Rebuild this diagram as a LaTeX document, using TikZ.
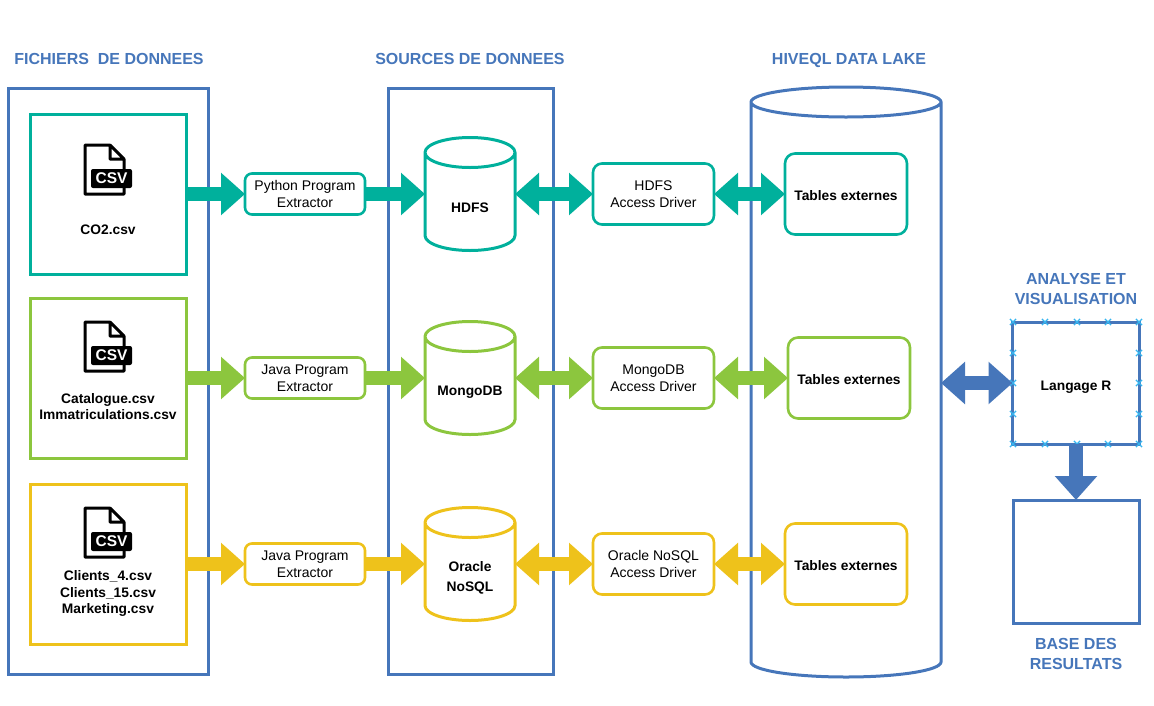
\documentclass[tikz,border=0pt]{standalone}
\usepackage{fontspec}
\setmainfont{Liberation Sans}
\usetikzlibrary{positioning,arrows.meta,shapes.misc,backgrounds}

\definecolor{laneblue}{HTML}{4676BA}
\definecolor{csvteal}{HTML}{00B09C}
\definecolor{csvgreen}{HTML}{8CC63E}
\definecolor{csvyellow}{HTML}{EEC21B}
\definecolor{handleblue}{HTML}{35B5F0}

% document icon: name, x, y of its top left corner
\newcommand{\csvicon}[3]{
    \begin{scope}[shift={(#2,#3)}]
        \draw[black, line width=3pt, line join=round] (26,0) -- (1,0) -- (1,49) -- (40,49) -- (40,14) -- (26,0) -- (26,14) -- (40,14);
        \fill[black, rounded corners=2pt] (7,24) rectangle (48,43);
        \node[text=white, font=\fontsize{15.5}{16}\selectfont\bfseries, inner sep=0pt] (#1) at (27.5,33.5) {CSV};
    \end{scope}
}

% cylinder round a store node: node, colour, half width
\newcommand{\storeoutline}[3]{
    \draw[#2, line width=3pt]
        ([yshift=-15pt]#1.north west) arc[start angle=180, end angle=0, x radius=#3, y radius=15pt]
        -- ([yshift=15pt]#1.south east) arc[start angle=0, end angle=-180, x radius=#3, y radius=15pt]
        -- cycle
        ([yshift=-15pt]#1.north west) arc[start angle=180, end angle=360, x radius=#3, y radius=15pt];
}

\begin{document}
\begin{tikzpicture}[
    x=1pt,
    y=-1pt,
    font=\fontsize{14}{17}\selectfont,
    lane/.style={
        draw=laneblue,
        line width=3pt,
        inner sep=0pt,
        outer sep=0pt
    },
    title/.style={
        text=laneblue,
        font=\fontsize{16}{20}\selectfont\bfseries,
        align=center,
        inner sep=0pt
    },
    filebox/.style={
        line width=3pt,
        minimum width=156pt,
        minimum height=160pt,
        inner sep=0pt,
        outer sep=0pt
    },
    filelabel/.style={
        font=\fontsize{13.8}{16.5}\selectfont\bfseries,
        align=center,
        inner sep=0pt
    },
    toolbox/.style={
        rounded corners=7pt,
        align=center,
        line width=2.6pt,
        minimum width=120pt,
        minimum height=41pt,
        inner sep=0pt,
        outer sep=0pt
    },
    driverbox/.style={
        toolbox,
        rounded corners=9pt,
        minimum width=121pt,
        minimum height=61pt
    },
    tablebox/.style={
        toolbox,
        rounded corners=10pt,
        font=\fontsize{13.8}{16.5}\selectfont\bfseries,
        text height=12pt,
        text depth=0pt,
        minimum width=122pt,
        minimum height=81pt
    },
    store/.style={
        minimum width=90pt,
        minimum height=113pt,
        inner sep=0pt,
        outer sep=0pt
    },
    storelabel/.style={
        font=\fontsize{13.8}{20}\selectfont\bfseries,
        align=center,
        inner sep=0pt
    },
    oneway/.style={
        line width=14pt,
        -{Triangle[length=24pt,width=41pt]}
    },
    twoway/.style={
        line width=14pt,
        {Triangle[length=24pt,width=41pt]}-{Triangle[length=24pt,width=41pt]}
    },
    handle/.style={
        cross out,
        draw=handleblue,
        line width=1.2pt,
        minimum size=5pt,
        inner sep=0pt
    }
]
\useasboundingbox (0,0) rectangle (1154,705);

% Titles
\node[title] (filestitle) at (109,59) {FICHIERS\ \ DE DONNEES};
\node[title] (sourcestitle) at (470,59) {SOURCES DE DONNEES};
\node[title, text depth=0pt] (laketitle) at (849,59) {HIVEQL DATA LAKE};

% Row 1: CO2
\node[filebox, draw=csvteal] (csvA) at (108,194) {};
\node[toolbox, draw=csvteal, right=59pt of csvA] (extractA) {Python Program\\Extractor};
\node[store, right=60pt of extractA] (hdfs) {};
\node[driverbox, draw=csvteal, right=78pt of hdfs] (driverA) {HDFS\\Access Driver};
\node[tablebox, draw=csvteal, right=71pt of driverA] (tablesA) {Tables externes};

% Row 2: Catalogue
\node[filebox, draw=csvgreen, below=24pt of csvA] (csvB) {};
\node[toolbox, draw=csvgreen, right=59pt of csvB] (extractB) {Java Program\\Extractor};
\node[store, right=60pt of extractB] (mongo) {};
\node[driverbox, draw=csvgreen, right=78pt of mongo] (driverB) {MongoDB\\Access Driver};
\node[tablebox, draw=csvgreen, right=74pt of driverB] (tablesB) {Tables externes};

% Row 3: Clients
\node[filebox, draw=csvyellow, below=26pt of csvB] (csvC) {};
\node[toolbox, draw=csvyellow, right=59pt of csvC] (extractC) {Java Program\\Extractor};
\node[store, right=60pt of extractC] (oracle) {};
\node[driverbox, draw=csvyellow, right=78pt of oracle] (driverC) {Oracle NoSQL\\Access Driver};
\node[tablebox, draw=csvyellow, right=71pt of driverC] (tablesC) {Tables externes};

% Stores
\storeoutline{hdfs}{csvteal}{45pt}
\storeoutline{mongo}{csvgreen}{45pt}
\storeoutline{oracle}{csvyellow}{45pt}
\node[storelabel] (hdfsname) at ([yshift=-14pt]hdfs.center) {HDFS};
\node[storelabel] (mongoname) at ([yshift=-14pt]mongo.center) {MongoDB};
\node[storelabel] (oraclename) at ([yshift=-14pt]oracle.center) {Oracle\\NoSQL};

% File names and icons
\node[filelabel, above=39pt of csvA.south] (namesA) {CO2.csv};
\node[filelabel, above=38pt of csvB.south] (namesB) {Catalogue.csv\\Immatriculations.csv};
\node[filelabel, above=27pt of csvC.south] (namesC) {Clients\_4.csv\\Clients\_15.csv\\Marketing.csv};
\csvicon{iconA}{84}{145}
\csvicon{iconB}{84}{322}
\csvicon{iconC}{84}{508}

% Right side
\node[lane, minimum width=127pt, minimum height=122pt, text height=14pt, text depth=0pt, font=\fontsize{13.8}{16.5}\selectfont\bfseries] (langage) at (1076,383) {Langage R};
\node[lane, minimum width=126pt, minimum height=123pt, below=56pt of langage] (results) {};
\node[title, above=17pt of langage] (analysetitle) {ANALYSE ET\\VISUALISATION};
\node[title, below=15pt of results] (resultstitle) {BASE DES\\RESULTATS};

% Selection handles
\foreach \hx in {1013,1045,1077,1108,1139} {
    \node[handle] (top\hx) at (\hx,322) {};
    \node[handle] (bot\hx) at (\hx,444) {};
}
\foreach \hy in {353,383,414} {
    \node[handle] (left\hy) at (1013,\hy) {};
    \node[handle] (right\hy) at (1139,\hy) {};
}

% Connections
\draw[oneway, csvteal] (csvA) -- (extractA);
\draw[oneway, csvteal] (extractA) -- (hdfs);
\draw[twoway, csvteal] (hdfs) -- (driverA);
\draw[twoway, csvteal] (driverA) -- (tablesA);

\draw[oneway, csvgreen] (csvB) -- (extractB);
\draw[oneway, csvgreen] (extractB) -- (mongo);
\draw[twoway, csvgreen] (mongo) -- (driverB);
\draw[twoway, csvgreen] (driverB) -- (tablesB);

\draw[oneway, csvyellow] (csvC) -- (extractC);
\draw[oneway, csvyellow] (extractC) -- (oracle);
\draw[twoway, csvyellow] (oracle) -- (driverC);
\draw[twoway, csvyellow] (driverC) -- (tablesC);

% Group background
\begin{scope}[on background layer]
    \node[lane, minimum width=200pt, minimum height=586pt] (filelane) at (108,381) {};
    \node[lane, minimum width=165pt, minimum height=586pt] (sourcelane) at (470.5,381) {};
    \node[store, minimum width=190pt, minimum height=590pt] (lake) at (846,382) {};
    \storeoutline{lake}{laneblue}{95pt}
\end{scope}

\draw[twoway, laneblue] (lake.east |- langage) -- (langage);
\draw[oneway, laneblue] (langage) -- (results);

\end{tikzpicture}
\end{document}
